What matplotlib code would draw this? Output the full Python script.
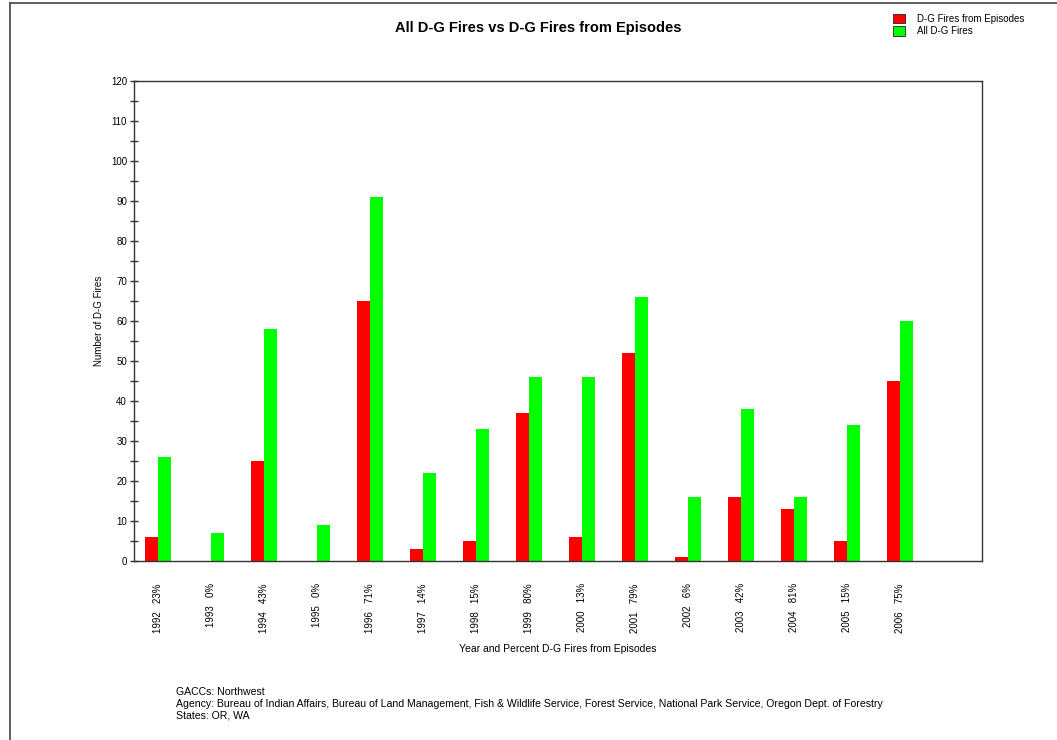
import matplotlib

matplotlib.use("Agg")
import matplotlib.pyplot as plt
import numpy as np
from matplotlib.lines import Line2D
from matplotlib.patches import Patch

plt.rcParams["font.family"] = ["Liberation Sans", "DejaVu Sans"]

years = ["1992", "1993", "1994", "1995", "1996", "1997", "1998", "1999",
         "2000", "2001", "2002", "2003", "2004", "2005", "2006"]
pct = ["23%", "0%", "43%", "0%", "71%", "14%", "15%", "80%",
       "13%", "79%", "6%", "42%", "81%", "15%", "75%"]
episode_fires = [6, 0, 25, 0, 65, 3, 5, 37, 6, 52, 1, 16, 13, 5, 45]
all_fires = [26, 7, 58, 9, 91, 22, 33, 46, 46, 66, 16, 38, 16, 34, 60]

RED = "#ff0000"
GREEN = "#00ff00"
AXC = "#333333"

fig = plt.figure(figsize=(10.57, 7.40), dpi=100)
ax = fig.add_axes([134 / 1057, 1 - 561 / 740, 848 / 1057, 480 / 740])

x = np.arange(len(years))
w = 0.25
ax.bar(x - w / 2, episode_fires, width=w, color=RED, edgecolor="none")
ax.bar(x + w / 2, all_fires, width=w, color=GREEN, edgecolor="none")

ax.set_xlim(-0.45, 15.55)
ax.set_ylim(0, 120)
ax.set_yticks(np.arange(0, 121, 10))
ax.set_yticks(np.arange(5, 120, 10), minor=True)
ax.tick_params(axis="y", which="both", direction="inout", length=6, width=1,
               color=AXC, labelsize=7, pad=2)
ax.set_xticks(x)
ax.set_xticklabels([f"{y}   {p}" for y, p in zip(years, pct)], rotation=90,
                   va="top", ha="center", fontsize=7)
ax.tick_params(axis="x", length=0, pad=16)
for s in ax.spines.values():
    s.set_color(AXC)
    s.set_linewidth(1)

ax.set_ylabel("Number of D-G Fires", fontsize=7, labelpad=5)
ax.set_xlabel("Year and Percent D-G Fires from Episodes", fontsize=7.5,
              labelpad=8)

fig.text(538 / 1057, 1 - 28 / 740, "All D-G Fires vs D-G Fires from Episodes",
         ha="center", va="center", fontsize=10.5, fontweight="bold")

handles = [Patch(facecolor=RED, edgecolor="#222222", lw=0.6),
           Patch(facecolor=GREEN, edgecolor="#222222", lw=0.6)]
fig.legend(handles, ["D-G Fires from Episodes", "All D-G Fires"],
           loc="upper left", bbox_to_anchor=(888 / 1057, 1 - 9 / 740),
           frameon=False, fontsize=7, handlelength=1.2, handleheight=1.1,
           handletextpad=1.3, labelspacing=0.25, borderpad=0)

footer = ["GACCs: Northwest",
          "Agency: Bureau of Indian Affairs, Bureau of Land Management, Fish & Wildlife Service, "
          "Forest Service, National Park Service, Oregon Dept. of Forestry",
          "States: OR, WA"]
for i, line in enumerate(footer):
    fig.text(176 / 1057, 1 - (692 + 12 * i) / 740, line, fontsize=7.6,
             ha="left", va="center")

# outer frame (left and top edges visible)
fig.add_artist(Line2D([10 / 1057, 10 / 1057], [0, 1 - 3 / 740],
                      color="#444444", lw=1.2, transform=fig.transFigure))
fig.add_artist(Line2D([10 / 1057, 1], [1 - 3 / 740, 1 - 3 / 740],
                      color="#444444", lw=1.2, transform=fig.transFigure))

fig.savefig("out.png", dpi=100)
